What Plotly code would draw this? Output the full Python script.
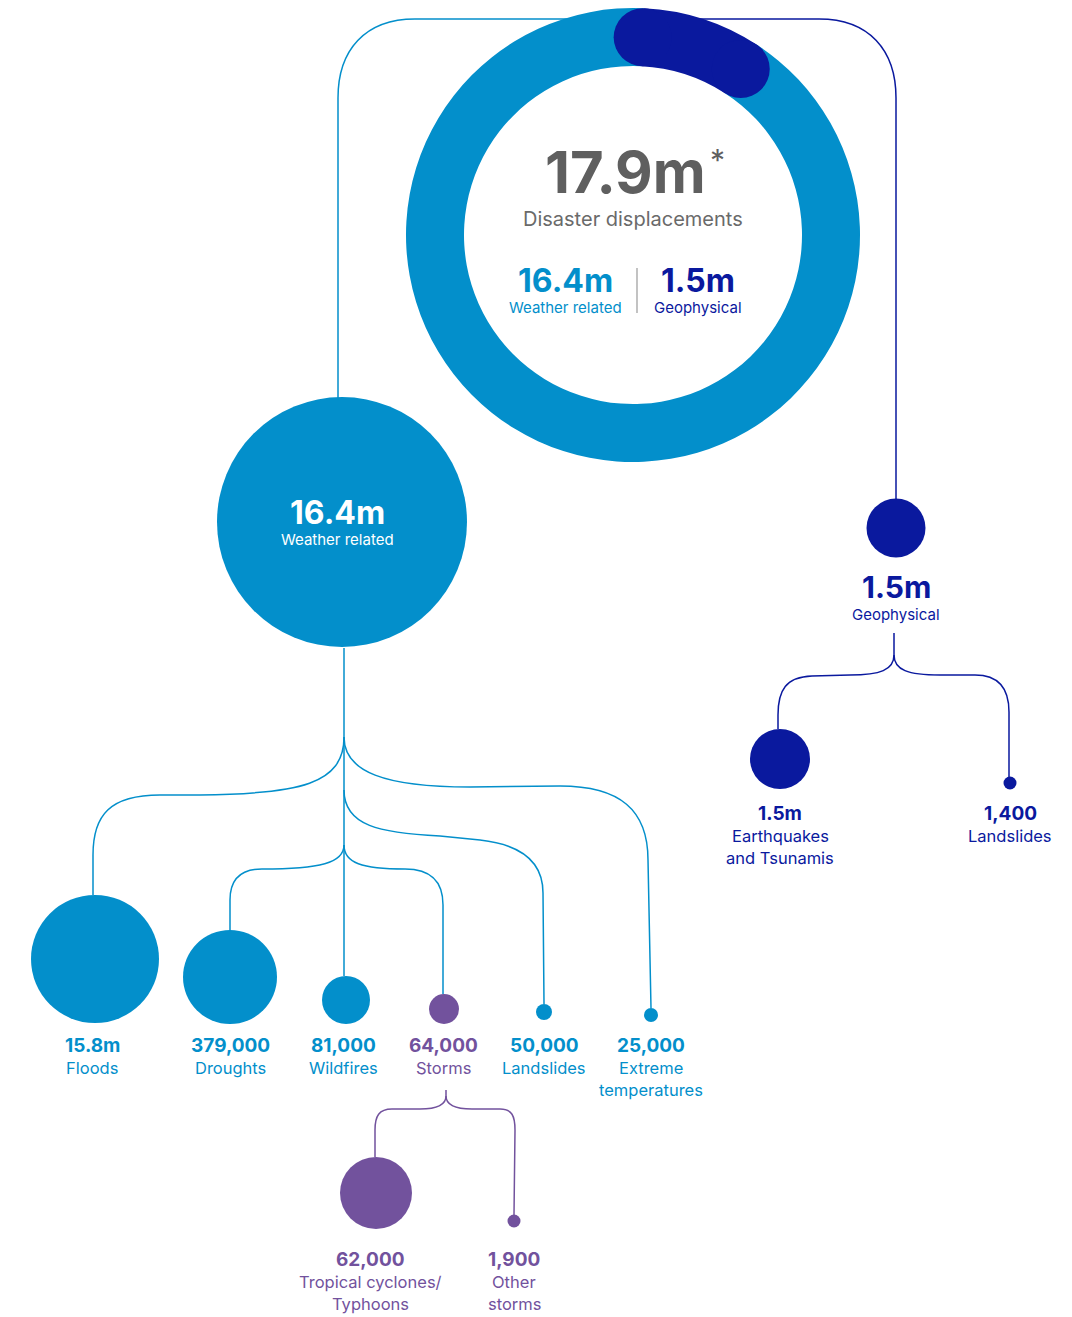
import math
import plotly.graph_objects as go

# ---------------- data ----------------
TOTAL_LABEL = "17.9m"
group_names = ["Geophysical", "Weather related"]
group_values = [1.5, 16.4]          # millions

weather_cats = ["Floods", "Droughts", "Wildfires", "Storms", "Landslides", "Extreme temperatures"]
weather_vals = [15_800_000, 379_000, 81_000, 64_000, 50_000, 25_000]

geo_cats = ["Earthquakes and Tsunamis", "Landslides"]
geo_vals = [1_500_000, 1_400]

storm_cats = ["Tropical cyclones/ Typhoons", "Other storms"]
storm_vals = [62_000, 1_900]

# ---------------- styles / layout ----------------
W, H = 1072, 1317
BLUE = "#038FCB"
DARK = "#0A199E"
PURPLE = "#72529D"
GRAY = "#5F5F5F"
FONT = "Inter"

# line-wrapping for display names
wrap = {
    "Extreme temperatures": ["Extreme", "temperatures"],
    "Earthquakes and Tsunamis": ["Earthquakes", "and Tsunamis"],
    "Tropical cyclones/ Typhoons": ["Tropical cyclones/", "Typhoons"],
    "Other storms": ["Other", "storms"],
}

# node centres and radii (pixels on the canvas)
weather_pos = [(95, 959), (230, 977), (346, 1000), (444, 1009), (544, 1012), (651, 1015)]
weather_r = [64, 47, 24, 15, 8, 7]
weather_lx = [92, 230, 343, 443, 544, 651]
geo_pos = [(780, 759), (1010, 783)]
geo_r = [30, 6.5]
storm_pos = [(376, 1193), (514, 1221)]
storm_r = [36, 6.5]
storm_lx = [370, 514]

DONUT_C = (633, 235)
DONUT_R = 227
DONUT_HOLE = 169
ROT = 2.8  # start angle of the geophysical slice (deg clockwise from 12 o'clock)


def fmt(v):
    if v >= 1_000_000:
        return f"{v/1_000_000:.1f}m"
    return f"{v:,}"


fig = go.Figure()

# donut
cx, cy = DONUT_C
fig.add_trace(go.Pie(
    values=group_values, labels=group_names, sort=False, direction="clockwise",
    rotation=ROT, hole=DONUT_HOLE / DONUT_R, textinfo="none", hoverinfo="label+value",
    marker=dict(colors=[DARK, BLUE], line=dict(width=0)), showlegend=False,
    domain=dict(x=[(cx - DONUT_R) / W, (cx + DONUT_R) / W],
                y=[1 - (cy + DONUT_R) / H, 1 - (cy - DONUT_R) / H]),
))

# rounded caps of the geophysical arc (derived from the slice angles)
mid_r = (DONUT_R + DONUT_HOLE) / 2
cap_r = (DONUT_R - DONUT_HOLE) / 2
frac = group_values[0] / sum(group_values)
shapes = []
for ang in (ROT, ROT + frac * 360):
    a = math.radians(ang)
    px, py = cx + mid_r * math.sin(a), cy - mid_r * math.cos(a)
    shapes.append(dict(type="circle", xref="x", yref="y", layer="above",
                       x0=px - cap_r, x1=px + cap_r, y0=py - cap_r, y1=py + cap_r,
                       fillcolor=DARK, line=dict(width=0)))

# connector paths
LW = 1.5
def path(d, color):
    shapes.append(dict(type="path", path=d, xref="x", yref="y", layer="below",
                       line=dict(color=color, width=LW)))

path("M 338 400 L 338 98 C 338 50 365 19 415 19 L 620 19", BLUE)
path("M 896 500 L 896 98 C 896 50 869 19 819 19 L 660 19", DARK)
# weather children
path("M 344 648 L 344 976", BLUE)
path("M 344 737 C 344 784 300 794 200 795 L 160 795 C 110 795 93 815 93 855 L 93 895", BLUE)
path("M 344 737 C 344 772 385 787 470 787 L 560 786 C 620 786 648 810 648 860 L 651 1008", BLUE)
path("M 344 790 C 344 826 380 833 440 836 L 480 840 C 525 845 543 865 543 893 L 544 1004", BLUE)
path("M 344 845 C 344 863 320 869 262 869 C 240 869 230 880 230 900 L 230 930", BLUE)
path("M 344 845 C 344 863 362 869 405 869 C 430 869 443 880 443 905 L 443 994", BLUE)
# geophysical children
path("M 894 633 L 894 655 C 894 670 880 675 850 675 L 812 676 C 786 677 778 690 778 715 L 778 729", DARK)
path("M 894 655 C 894 670 908 675 940 675 L 975 675 C 1000 675 1009 690 1009 712 L 1009 777", DARK)
# storm children
path("M 446 1090 L 446 1096 C 446 1105 436 1109 420 1109 L 392 1109 C 379 1109 375 1116 375 1130 L 375 1157", PURPLE)
path("M 446 1096 C 446 1105 456 1109 472 1109 L 500 1109 C 512 1109 515 1116 515 1130 L 514 1215", PURPLE)

# divider in donut centre
shapes.append(dict(type="line", xref="x", yref="y", x0=637, x1=637, y0=268, y1=313,
                   line=dict(color="#9A9A9A", width=1.2)))

# node circles
nodes_x, nodes_y, nodes_s, nodes_c, nodes_t = [], [], [], [], []
def add_nodes(pos, radii, color, cats, vals):
    for (x, y), r, c, v in zip(pos, radii, cats, vals):
        nodes_x.append(x); nodes_y.append(y); nodes_s.append(2 * r)
        nodes_c.append(color); nodes_t.append(f"{c}: {fmt(v)}")

add_nodes([(342, 522)], [125], BLUE, ["Weather related"], [16_400_000])
add_nodes([(896, 528)], [29.5], DARK, ["Geophysical"], [1_500_000])
add_nodes(weather_pos, weather_r, BLUE, weather_cats, weather_vals)
nodes_c[2 + 3] = PURPLE
add_nodes(geo_pos, geo_r, DARK, geo_cats, geo_vals)
add_nodes(storm_pos, storm_r, PURPLE, storm_cats, storm_vals)

fig.add_trace(go.Scatter(x=nodes_x, y=nodes_y, mode="markers", text=nodes_t, hoverinfo="text",
                         marker=dict(size=nodes_s, color=nodes_c, opacity=1, line=dict(width=0),
                                     sizemode="diameter"),
                         showlegend=False))

ann = []
def T(x, y, text, size, color, bold=False):
    t = f"<b>{text}</b>" if bold else text
    ann.append(dict(x=x, y=y, xref="x", yref="y", text=t, showarrow=False,
                    xanchor="center", yanchor="middle",
                    font=dict(family=FONT, size=size, color=color)))

# donut centre
T(625, 172, TOTAL_LABEL, 58, GRAY, True)
T(717, 160, "*", 30, GRAY)
T(633, 219, "Disaster displacements", 20, "#6A6A6A")
T(565, 280, f"{group_values[1]}m", 32, BLUE, True)
T(565, 307, group_names[1], 15, BLUE)
T(698, 280, f"{group_values[0]}m", 32, DARK, True)
T(698, 307, group_names[0], 15, DARK)
# weather circle
T(337, 512, f"{group_values[1]}m", 32, "white", True)
T(337, 539, group_names[1], 15, "white")
# geophysical node
T(896, 587, f"{group_values[0]}m", 30, DARK, True)
T(896, 614, group_names[0], 15, DARK)

def labels(xs, y0, cats, vals, color):
    for x, c, v in zip(xs, cats, vals):
        T(x, y0, fmt(v), 19, color, True)
        for i, line in enumerate(wrap.get(c, [c])):
            T(x, y0 + 23 + 22 * i, line, 16.5, color)

row_colors = [BLUE, BLUE, BLUE, PURPLE, BLUE, BLUE]
for x, c, v, col in zip(weather_lx, weather_cats, weather_vals, row_colors):
    labels([x], 1045, [c], [v], col)
labels([780, 1010], 813, geo_cats, geo_vals, DARK)
labels(storm_lx, 1259, storm_cats, storm_vals, PURPLE)

fig.update_layout(
    width=W, height=H, margin=dict(l=0, r=0, t=0, b=0),
    paper_bgcolor="white", plot_bgcolor="white",
    xaxis=dict(range=[0, W], visible=False, fixedrange=True),
    yaxis=dict(range=[H, 0], visible=False, fixedrange=True),
    shapes=shapes, annotations=ann, showlegend=False,
)

fig.write_html("out.html", config={"displayModeBar": False},
               post_script="document.body.style.margin='0';")
